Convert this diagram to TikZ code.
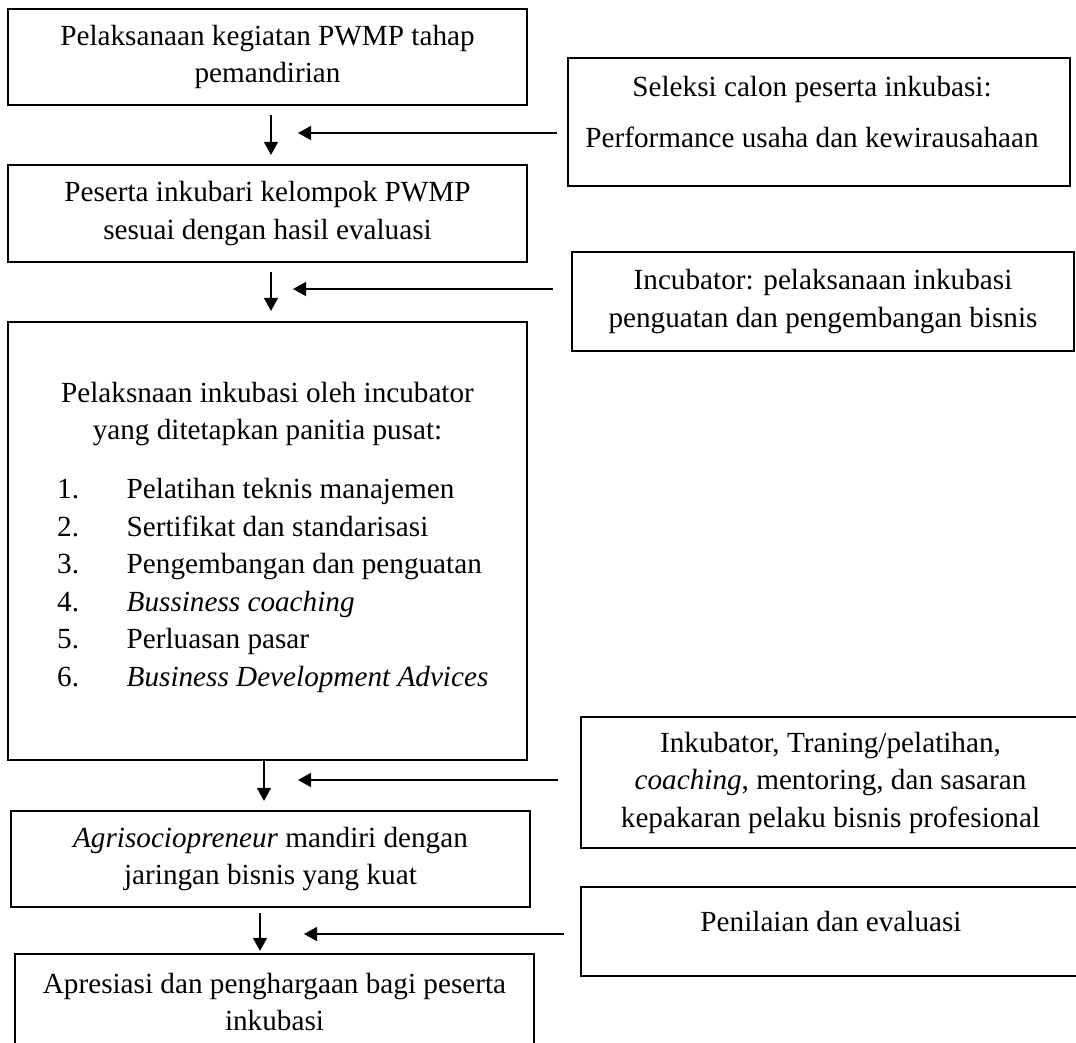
\documentclass[tikz,border=0pt]{standalone}
\usepackage{fontspec}
\setmainfont{Liberation Serif}
\usetikzlibrary{arrows.meta, positioning, calc}
\newcommand{\bodyfont}{\fontsize{29.2}{37.5}\selectfont}

\begin{document}
\begin{tikzpicture}[x=1pt, y=-1pt,
    box/.style={draw, line width=2.2pt, inner sep=0pt, align=center, font=\bodyfont},
    txt/.style={inner sep=0pt, align=center, font=\bodyfont},
    listitem/.style={inner sep=0pt, anchor=west, font=\bodyfont, text height=20pt, text depth=6pt},
    arr/.style={-{Triangle[length=13pt, width=14pt]}, line width=1.3pt}]
    \useasboundingbox (0,0) rectangle (1076,1043);
    \clip (0,0) rectangle (1076,1043);

    % Main flow (left column)
    \node[box, minimum width=519pt, minimum height=96pt] (plan) at (267.5,57) {Pelaksanaan kegiatan PWMP tahap\\pemandirian};
    \node[box, minimum width=519pt, minimum height=97pt] (peserta) at (267.5,213.5) {Peserta inkubari kelompok PWMP\\sesuai dengan hasil evaluasi};
    \node[box, minimum width=519pt, minimum height=438pt] (inkubasi) at (267.5,541) {};
    \node[txt] (inkubasiHead) at (267.5,414) {Pelaksnaan inkubasi oleh incubator\\yang ditetapkan panitia pusat:};
    \foreach \t [count=\n] in {Pelatihan teknis manajemen, Sertifikat dan standarisasi, Pengembangan dan penguatan, \textit{Bussiness coaching}, Perluasan pasar, \textit{Business Development Advices}} {
        \node[listitem] (no\n) at (57,{491.5+37.6*(\n-1)}) {\n.};
        \node[listitem] (point\n) at (126.5,{491.5+37.6*(\n-1)}) {\t};
    }
    \node[box, minimum width=519pt, minimum height=96pt] (mandiri) at (270.5,859) {\textit{Agrisociopreneur} mandiri dengan\\jaringan bisnis yang kuat};
    \node[box, minimum width=519pt, minimum height=96pt] (apresiasi) at (274.5,1002) {Apresiasi dan penghargaan bagi peserta\\inkubasi};

    % Inputs (right column)
    \node[box, minimum width=502pt, minimum height=128pt] (seleksi) at (819,122) {};
    \node[txt] (seleksiText) at (812,112.5) {Seleksi calon peserta inkubasi:\\[13.5pt]Performance usaha dan kewirausahaan};
    \node[box, minimum width=502pt, minimum height=99pt] (incubator) at (823,301.5) {Incubator: pelaksanaan inkubasi\\penguatan dan pengembangan bisnis};
    \node[box, minimum width=499pt, minimum height=131pt] (pelatihan) at (830.5,782.5) {Inkubator, Traning/pelatihan,\\\textit{coaching}, mentoring, dan sasaran\\kepakaran pelaku bisnis profesional};
    \node[box, minimum width=499pt, minimum height=89pt] (penilaian) at (830.5,931.5) {};
    \node[txt] (penilaianText) at (831,922) {Penilaian dan evaluasi};

    % Downward arrows
    \draw[arr, shorten <=9pt, shorten >=9pt] ([xshift=3.5pt]plan.south) coordinate (v1) -- (v1 |- peserta.north);
    \draw[arr, shorten <=9pt, shorten >=10pt] ([xshift=3.5pt]peserta.south) coordinate (v2) -- (v2 |- inkubasi.north);
    \draw[arr, shorten >=9pt] ([xshift=-3.5pt]inkubasi.south) coordinate (v3) -- (v3 |- mandiri.north);
    \draw[arr, shorten <=5pt, shorten >=2pt] ([xshift=-10.5pt]mandiri.south) coordinate (v4) -- (v4 |- apresiasi.north);

    % Side arrows
    \coordinate (tip1) at (298,133);
    \coordinate (tip2) at (293,289);
    \coordinate (tip3) at (298,780);
    \coordinate (tip4) at (304,934);
    \draw[arr, shorten <=10pt] (tip1 -| seleksi.west) -- (tip1);
    \draw[arr, shorten <=18pt] (tip2 -| incubator.west) -- (tip2);
    \draw[arr, shorten <=22pt] (tip3 -| pelatihan.west) -- (tip3);
    \draw[arr, shorten <=16pt] (tip4 -| penilaian.west) -- (tip4);
\end{tikzpicture}
\end{document}
